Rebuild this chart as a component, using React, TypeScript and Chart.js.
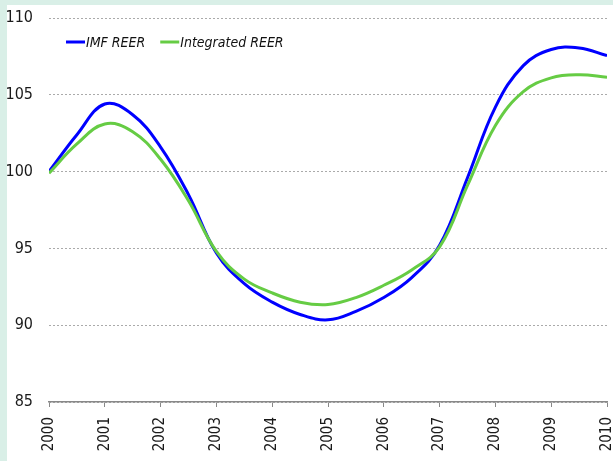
import React, { useEffect, useRef } from "react";
import { Chart, registerables } from "chart.js";

Chart.register(...registerables);

const periods = [
  2000.0, 2000.5, 2001.0, 2001.5, 2002.0, 2002.5, 2003.0, 2003.5, 2004.0, 2004.5,
  2005.0, 2005.5, 2006.0, 2006.5, 2007.0, 2007.5, 2008.0, 2008.5, 2009.0, 2009.5, 2010.0,
];
const imfReer = [
  100.0, 102.4, 104.4, 103.7, 101.6, 98.5, 94.7, 92.7, 91.5, 90.7,
  90.35, 90.9, 91.8, 93.1, 95.2, 99.6, 104.2, 106.9, 107.95, 108.05, 107.55,
];
const integratedReer = [
  99.9, 101.8, 103.1, 102.6, 100.8, 98.1, 94.8, 93.0, 92.1, 91.5,
  91.35, 91.8, 92.6, 93.6, 95.1, 99.1, 103.0, 105.2, 106.1, 106.3, 106.15,
];
const seriesNames = ["IMF REER", "Integrated REER"];
const yearTicks = [2000, 2001, 2002, 2003, 2004, 2005, 2006, 2007, 2008, 2009, 2010];

const FONT = "'Liberation Sans Narrow', 'DejaVu Sans', sans-serif";

const backgroundPlugin = {
  id: "bgPanel",
  beforeDraw(chart: any) {
    const { ctx, width, height } = chart;
    ctx.save();
    ctx.fillStyle = "#d9efe7";
    ctx.fillRect(0, 0, width, height);
    ctx.fillStyle = "#ffffff";
    ctx.fillRect(7, 5, width - 7, height - 5);
    ctx.restore();
  },
};

const legendPlugin = {
  id: "inlineLegend",
  afterDraw(chart: any) {
    const { ctx, chartArea } = chart;
    ctx.save();
    ctx.font = `italic normal condensed 14px ${FONT}`;
    ctx.textBaseline = "middle";
    let x = chartArea.left + 17;
    const y = chartArea.top + 24;
    chart.data.datasets.forEach((ds: any) => {
      ctx.strokeStyle = ds.borderColor;
      ctx.lineWidth = 3;
      ctx.beginPath();
      ctx.moveTo(x, y);
      ctx.lineTo(x + 19, y);
      ctx.stroke();
      ctx.fillStyle = "#111";
      ctx.fillText(ds.label, x + 20, y + 1);
      x += 20 + ctx.measureText(ds.label).width + 15;
    });
    ctx.restore();
  },
};

export default function App() {
  const ref = useRef<HTMLCanvasElement | null>(null);
  useEffect(() => {
    if (!ref.current) return;
    const chart = new Chart(ref.current, {
      type: "line",
      data: {
        datasets: [
          {
            label: seriesNames[0],
            data: periods.map((x, i) => ({ x, y: imfReer[i] })),
            borderColor: "#0000ff",
            borderWidth: 3,
            pointRadius: 0,
            fill: false,
            tension: 0.4,
            order: 1,
          },
          {
            label: seriesNames[1],
            data: periods.map((x, i) => ({ x, y: integratedReer[i] })),
            borderColor: "#66cc44",
            borderWidth: 3,
            pointRadius: 0,
            fill: false,
            tension: 0.4,
            order: 0,
          },
        ],
      },
      options: {
        responsive: false,
        animation: false,
        events: [],
        layout: { padding: { top: 18, right: 6, left: 0, bottom: 0 } },
        plugins: { legend: { display: false }, tooltip: { enabled: false } },
        scales: {
          x: {
            type: "linear",
            min: yearTicks[0],
            max: yearTicks[yearTicks.length - 1],
            afterBuildTicks: (s: any) => {
              s.ticks = yearTicks.map((v) => ({ value: v }));
            },
            ticks: {
              autoSkip: false,
              maxRotation: 90,
              minRotation: 90,
              padding: 10,
              color: "#1a1a1a",
              font: { family: FONT, size: 15, weight: "normal condensed" },
              callback: (v: any) => String(v),
            },
            grid: { drawOnChartArea: false, drawTicks: true, tickLength: 5, color: "#888888", lineWidth: 1 },
            border: { display: true, color: "#888888", width: 1.5 },
            afterFit: (s: any) => {
              s.height = 59;
              s.paddingLeft = 0;
              s.paddingRight = 0;
            },
          },
          y: {
            min: 85,
            max: 110,
            ticks: {
              stepSize: 5,
              padding: 16,
              color: "#1a1a1a",
              font: { family: FONT, size: 16, weight: "normal condensed" },
            },
            grid: { drawTicks: false, color: "#aaaaaa", lineWidth: 1 },
            border: { display: false, dash: [2, 2] },
            afterFit: (s: any) => {
              s.width = 49;
              s.paddingTop = 0;
              s.paddingBottom = 0;
            },
          },
        },
      },
      plugins: [backgroundPlugin, legendPlugin],
    } as any);
    return () => chart.destroy();
  }, []);
  return (
    <div style={{ position: "fixed", left: 0, top: 0, width: 613, height: 461 }}>
      <canvas ref={ref} width={613} height={461} style={{ display: "block" }} />
    </div>
  );
}
